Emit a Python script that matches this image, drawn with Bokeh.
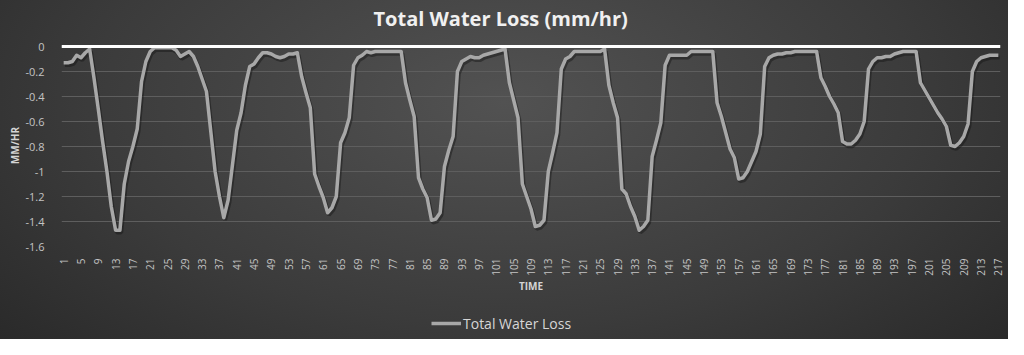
from math import pi
from bokeh.plotting import figure
from bokeh.layouts import column
from bokeh.models import (Range1d, FixedTicker, CustomJSTickFormatter, Span, Legend,
                          LegendItem, ColumnDataSource, Title)
from bokeh.transform import dodge
from bokeh.embed import file_html
from bokeh.resources import INLINE

# ---------------- data ----------------
time = list(range(1, 218))
water_loss = [
    -0.13, -0.13, -0.12, -0.07, -0.09, -0.05, -0.02, -0.25, -0.50, -0.76,
    -1.00, -1.28, -1.47, -1.47, -1.10, -0.92, -0.80, -0.66, -0.28, -0.12,
    -0.04, -0.01, -0.01, -0.01, -0.01, -0.01, -0.03, -0.08, -0.06, -0.04,
    -0.08, -0.16, -0.26, -0.36, -0.68, -1.00, -1.20, -1.37, -1.23, -0.95,
    -0.67, -0.53, -0.31, -0.16, -0.14, -0.09, -0.05, -0.05, -0.06, -0.08,
    -0.09, -0.08, -0.06, -0.06, -0.05, -0.24, -0.37, -0.49, -1.02, -1.12,
    -1.21, -1.33, -1.29, -1.20, -0.77, -0.69, -0.57, -0.15, -0.09, -0.07,
    -0.04, -0.05, -0.04, -0.04, -0.04, -0.04, -0.04, -0.04, -0.04, -0.29,
    -0.43, -0.56, -1.05, -1.14, -1.21, -1.39, -1.38, -1.33, -0.96, -0.83,
    -0.72, -0.20, -0.12, -0.10, -0.08, -0.09, -0.09, -0.07, -0.06, -0.05,
    -0.04, -0.03, -0.02, -0.29, -0.43, -0.57, -1.10, -1.20, -1.30, -1.44,
    -1.43, -1.39, -1.00, -0.85, -0.69, -0.18, -0.10, -0.08, -0.04, -0.04,
    -0.04, -0.04, -0.04, -0.04, -0.04, -0.02, -0.31, -0.45, -0.57, -1.14,
    -1.18, -1.28, -1.36, -1.47, -1.44, -1.39, -0.88, -0.75, -0.61, -0.15,
    -0.07, -0.07, -0.07, -0.07, -0.07, -0.04, -0.04, -0.04, -0.04, -0.04,
    -0.04, -0.45, -0.56, -0.69, -0.82, -0.89, -1.06, -1.05, -1.00, -0.92,
    -0.84, -0.70, -0.16, -0.09, -0.07, -0.06, -0.06, -0.05, -0.05, -0.04,
    -0.04, -0.04, -0.04, -0.04, -0.04, -0.25, -0.32, -0.40, -0.46, -0.53,
    -0.76, -0.78, -0.78, -0.75, -0.70, -0.60, -0.18, -0.12, -0.09, -0.09,
    -0.08, -0.08, -0.06, -0.05, -0.04, -0.04, -0.04, -0.04, -0.29, -0.35,
    -0.41, -0.47, -0.53, -0.58, -0.64, -0.79, -0.80, -0.77, -0.72, -0.62,
    -0.20, -0.12, -0.09, -0.08, -0.07, -0.07, -0.07,
]
x_tick_values = list(range(1, 218, 4))
y_tick_values = [0, -0.2, -0.4, -0.6, -0.8, -1.0, -1.2, -1.4, -1.6]

title_text = "Total Water Loss (mm/hr)"
series_name = "Total Water Loss"
x_title = "TIME"
y_title = "MM/HR"

LINE_COLOR = "#a8a8a8"
LINE_WIDTH = 3.5

# ---------------- main chart ----------------
source = ColumnDataSource(data=dict(time=time, loss=water_loss))

p = figure(frame_width=939, frame_height=202, output_backend="svg", toolbar_location=None,
           x_range=Range1d(0.5, 217.5), y_range=Range1d(-1.6, 0.016),
           min_border_left=61, min_border_right=8, min_border_top=44,
           min_border_bottom=62, title=None)
p.background_fill_alpha = 0
p.border_fill_alpha = 0
p.outline_line_color = None

# spacer (nearest the frame) and the real title above it
p.add_layout(Title(text=" ", text_font_size="10px", standoff=0), "above")
p.add_layout(Title(text=title_text, align="left", offset=312, standoff=0,
                   text_font="Open Sans", text_font_size="20px", text_font_style="bold",
                   text_color="#f0f0f0"), "above")

# grid
p.xgrid.visible = False
p.ygrid.grid_line_color = "#5e5e5e"
p.ygrid.grid_line_width = 1

# y axis
p.yaxis.ticker = FixedTicker(ticks=y_tick_values)
p.yaxis.formatter = CustomJSTickFormatter(code="return tick.toFixed(1).replace(/\\.0$/, '')")
p.yaxis.axis_line_color = None
p.yaxis.major_tick_line_color = None
p.yaxis.minor_tick_line_color = None
p.yaxis.major_label_text_color = "#c4c4c4"
p.yaxis.major_label_text_font = "Open Sans"
p.yaxis.major_label_text_font_size = "11px"
p.yaxis.major_label_standoff = 11
p.yaxis.axis_label = y_title
p.yaxis.axis_label_text_font = "Open Sans"
p.yaxis.axis_label_text_font_size = "10px"
p.yaxis.axis_label_text_font_style = "bold"
p.yaxis.axis_label_text_color = "#d4d4d4"
p.yaxis.axis_label_standoff = 0

# x axis
p.xaxis.ticker = FixedTicker(ticks=x_tick_values)
p.xaxis.axis_line_color = None
p.xaxis.major_tick_line_color = None
p.xaxis.minor_tick_line_color = None
p.xaxis.major_label_orientation = pi / 2
p.xaxis.major_label_text_color = "#c4c4c4"
p.xaxis.major_label_text_font = "Open Sans"
p.xaxis.major_label_text_font_size = "10px"
p.xaxis.major_label_standoff = 6
p.xaxis.axis_label = x_title
p.xaxis.axis_label_text_font = "Open Sans"
p.xaxis.axis_label_text_font_size = "10px"
p.xaxis.axis_label_text_font_style = "bold"
p.xaxis.axis_label_text_color = "#d4d4d4"
p.xaxis.axis_label_standoff = 0

# shadow + series line
p.line(x=dodge("time", 0.3, range=p.x_range), y=dodge("loss", -0.018, range=p.y_range),
       source=source, line_color="#151515", line_alpha=0.45, line_width=4)
p.line(x="time", y="loss", source=source, line_color=LINE_COLOR, line_width=LINE_WIDTH,
       line_join="round")

zero = Span(location=0, dimension="width", line_color="#ffffff", line_width=3)
p.add_layout(zero)

# ---------------- legend strip (below the chart) ----------------
lg = figure(width=1008, height=31, output_backend="svg", toolbar_location=None,
            x_axis_type=None, y_axis_type=None,
            x_range=Range1d(-1000, -999), y_range=Range1d(-1.6, 0.016),
            min_border=0, min_border_left=0, min_border_right=0,
            min_border_top=0, min_border_bottom=0, title=None)
lg.background_fill_alpha = 0
lg.border_fill_alpha = 0
lg.outline_line_color = None
lg.grid.visible = False
# same series, drawn in a range that keeps it out of view: only its legend entry shows
r_leg = lg.line(x="time", y="loss", source=source, line_color=LINE_COLOR,
                line_width=LINE_WIDTH)

legend = Legend(items=[LegendItem(label=series_name, renderers=[r_leg])],
                orientation="horizontal", location=(370, 6))
legend.background_fill_alpha = 0
legend.border_line_color = None
legend.label_text_color = "#d6d6d6"
legend.label_text_font = "Open Sans"
legend.label_text_font_size = "14px"
legend.glyph_width = 30
legend.label_standoff = 2
legend.margin = 0
legend.padding = 4
lg.add_layout(legend)

layout = column(p, lg, spacing=0)
layout.styles = {"background": "radial-gradient(ellipse 75% 120% at 50% 30%, #525252 0%, "
                               "#3b3b3b 55%, #242424 100%)"}

open("out.html", "w").write(file_html(layout, INLINE))
